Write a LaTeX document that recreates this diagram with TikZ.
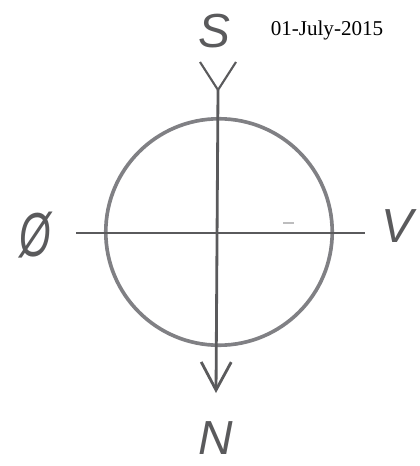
\documentclass[tikz,border=0pt]{standalone}
\usepackage{fontspec}
\setmainfont{Liberation Serif}
\newfontfamily\handfont{Liberation Sans}
\usepackage{xcolor}
\usepackage{tikz}
\usetikzlibrary{arrows.meta}
\definecolor{pencil}{RGB}{90,90,92}
\definecolor{ringgray}{RGB}{128,128,132}

\begin{document}
\begin{tikzpicture}[x=0.025cm, y=-0.025cm,
    axis/.style={pencil, line width=2pt},
    barb/.style={pencil, line width=1.5pt},
    letter/.style={pencil, font=\handfont\itshape\fontsize{34}{36}\selectfont}]
        \useasboundingbox (0,0) rectangle (420,466);
        \node[font=\fontsize{15}{17}\selectfont] (date) at (327,30) {01-July-2015};

        % ring and axes
        \coordinate (centre) at (219,232);
        \draw[ringgray, line width=2.6pt] (centre) circle[radius=2.83cm];
        \coordinate (south) at (218,90);
        \coordinate (north) at (216,393);
        \coordinate (west) at (76,233);
        \coordinate (east) at (365,233);
        \draw[axis, -{Straight Barb[length=0.7cm, width=0.75cm]}] (south) -- (north);
        \draw[barb] (200,62) -- (south) -- (236,62);
        \draw[axis] (west) -- (east);
        \draw[pencil!40, line width=1.2pt] (283,223) -- (294,223);

        \node[letter] (s) at (214,31) {S};
        \node[letter] (n) at (216,438) {N};
        \node[letter] (v) at (397,226) {V};
        \node[letter] (o) at (35,235) {\scalebox{0.85}[1.3]{Ø}};
    \end{tikzpicture}
\end{document}
